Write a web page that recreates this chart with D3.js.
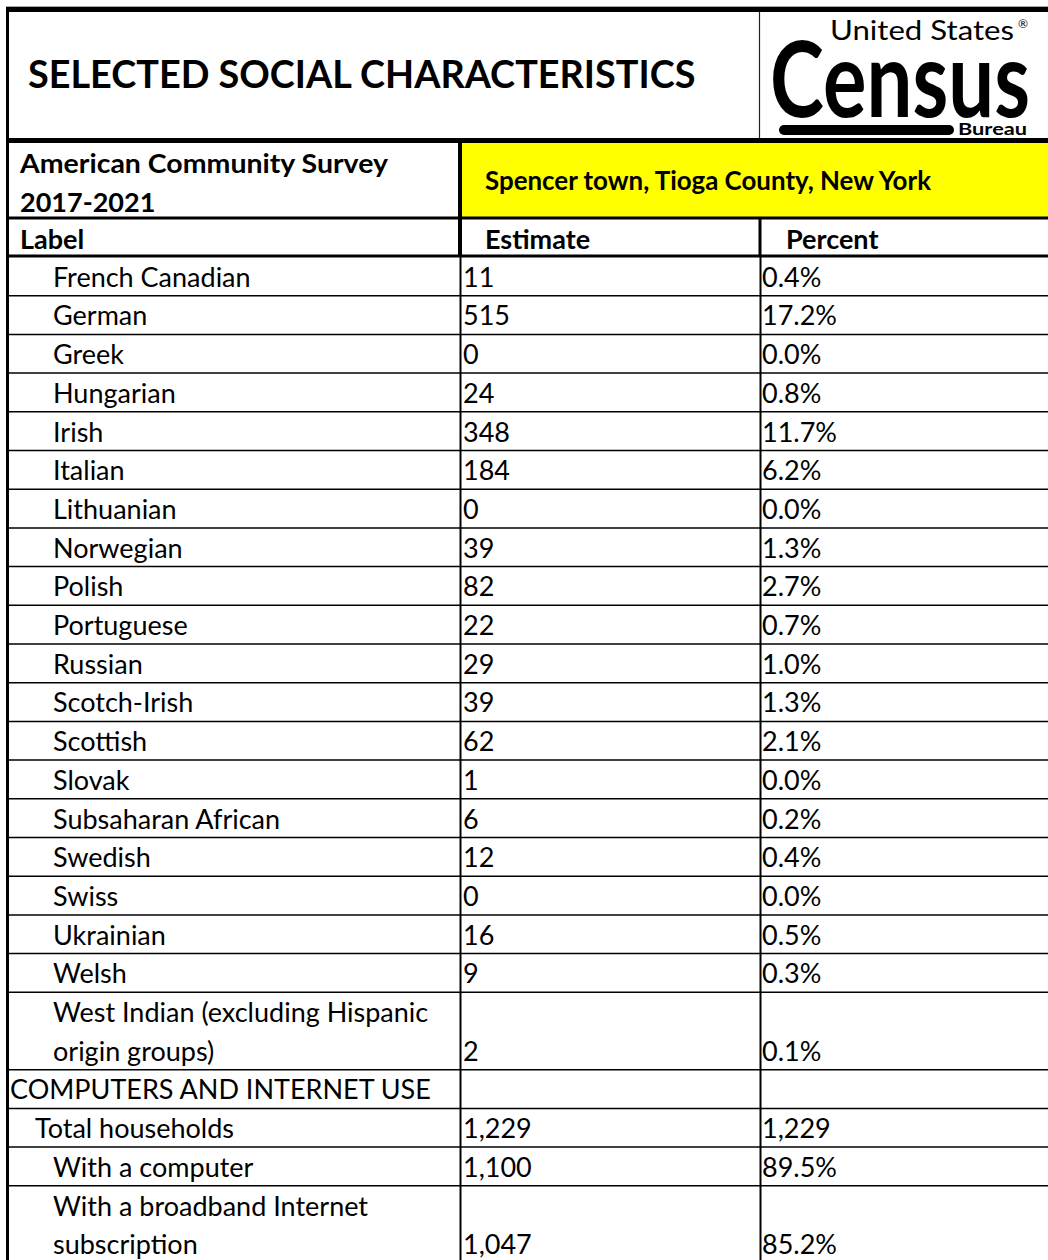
<!DOCTYPE html>
<html>
<head>
<meta charset="utf-8">
<script src="https://cdn.jsdelivr.net/npm/d3@7"></script>
<style>
  html, body { margin: 0; padding: 0; background: #fff; }
  svg { display: block; }
  text { font-family: Lato, "Open Sans", sans-serif; fill: #000; }
</style>
</head>
<body>
<svg id="chart" width="1048" height="1260"></svg>
<script>
// ---- data ----
const title = "SELECTED SOCIAL CHARACTERISTICS";
const surveyLines = ["American Community Survey", "2017-2021"];
const geography = "Spencer town, Tioga County, New York";
const columns = ["Label", "Estimate", "Percent"];

const labels = [
  "French Canadian", "German", "Greek", "Hungarian", "Irish", "Italian",
  "Lithuanian", "Norwegian", "Polish", "Portuguese", "Russian", "Scotch-Irish",
  "Scottish", "Slovak", "Subsaharan African", "Swedish", "Swiss", "Ukrainian",
  "Welsh", "West Indian (excluding Hispanic\norigin groups)",
  "COMPUTERS AND INTERNET USE", "Total households", "With a computer",
  "With a broadband Internet\nsubscription"
];
const estimates = [
  "11", "515", "0", "24", "348", "184", "0", "39", "82", "22", "29", "39",
  "62", "1", "6", "12", "0", "16", "9", "2", "", "1,229", "1,100", "1,047"
];
const percents = [
  "0.4%", "17.2%", "0.0%", "0.8%", "11.7%", "6.2%", "0.0%", "1.3%", "2.7%",
  "0.7%", "1.0%", "1.3%", "2.1%", "0.0%", "0.2%", "0.4%", "0.0%", "0.5%",
  "0.3%", "0.1%", "", "1,229", "89.5%", "85.2%"
];
const levels = [
  2, 2, 2, 2, 2, 2, 2, 2, 2, 2, 2, 2, 2, 2, 2, 2, 2, 2, 2, 2, 0, 1, 2, 2
];

// ---- layout ----
const W = 1048;
const FS = 27;
const svg = d3.select("#chart");

const rows = labels.map((l, i) => ({
  lines: l.split("\n"),
  est: estimates[i],
  pct: percents[i],
  level: levels[i]
}));
let acc = 0;
rows.forEach(r => { r.start = acc; acc += r.lines.length; r.end = acc; });
const totalUnits = acc;

const rowH = 38.7;
const dataTop = 257;
const y = d3.scaleLinear().domain([0, totalUnits]).range([dataTop, dataTop + totalUnits * rowH]);
const colX = d3.scaleOrdinal().domain(columns).range([8, 460, 760]);
const indent = d3.scaleOrdinal().domain([0, 1, 2]).range([10, 35, 53]);

// ---- header ----
svg.append("line").attr("x1", 6).attr("x2", W).attr("y1", 6.5).attr("y2", 6.5)
  .attr("stroke", "#a6a6a6").attr("stroke-width", 1);
svg.append("rect").attr("x", 6).attr("y", 7).attr("width", W - 6).attr("height", 5).attr("fill", "#000");

// title
svg.append("text").attr("x", 28).attr("y", 88)
  .attr("font-size", 37.8).attr("font-weight", 700).text(title);

// title / logo divider
svg.append("line").attr("x1", 759.5).attr("x2", 759.5).attr("y1", 12).attr("y2", 138)
  .attr("stroke", "#222").attr("stroke-width", 1.2);

// logo
const logo = svg.append("g");
logo.append("text").attr("x", 830).attr("y", 40)
  .attr("font-family", "'DejaVu Serif', 'Liberation Serif', serif")
  .attr("font-size", 27).attr("textLength", 184).attr("lengthAdjust", "spacingAndGlyphs")
  .text("United States");
logo.append("text").attr("x", 1018).attr("y", 28)
  .attr("font-family", "'DejaVu Sans', sans-serif").attr("font-size", 12).text("®");
logo.append("text").attr("x", 770).attr("y", 117)
  .attr("font-family", "'DejaVu Sans', sans-serif").attr("font-weight", 700)
  .attr("font-size", 105).attr("textLength", 260).attr("lengthAdjust", "spacingAndGlyphs")
  .text("Census");
logo.append("rect").attr("x", 779).attr("y", 125).attr("width", 175).attr("height", 10)
  .attr("rx", 5).attr("fill", "#000");
logo.append("text").attr("x", 958).attr("y", 135)
  .attr("font-family", "'DejaVu Sans', sans-serif").attr("font-weight", 700)
  .attr("font-size", 17).attr("textLength", 69).attr("lengthAdjust", "spacingAndGlyphs")
  .text("Bureau");

// thick line under title
svg.append("rect").attr("x", 6).attr("y", 138).attr("width", W - 6).attr("height", 5).attr("fill", "#000");

// yellow geography cell
svg.append("rect").attr("x", 462).attr("y", 143).attr("width", W - 462).attr("height", 74).attr("fill", "#ffff00");

surveyLines.forEach((t, i) => {
  const tx = svg.append("text").attr("x", 20).attr("y", 173 + i * 38.5)
    .attr("font-size", FS).attr("font-weight", 700).text(t);
  if (i === 0) tx.attr("textLength", 368).attr("lengthAdjust", "spacingAndGlyphs");
});
svg.append("text").attr("x", 485).attr("y", 190)
  .attr("font-size", FS).attr("font-weight", 700)
  .attr("textLength", 446).attr("lengthAdjust", "spacingAndGlyphs")
  .text(geography);

// line under survey row
svg.append("rect").attr("x", 6).attr("y", 216.5).attr("width", W - 6).attr("height", 3).attr("fill", "#000");

// column headers
const headX = { "Label": 20, "Estimate": 485, "Percent": 786 };
columns.forEach(c => {
  svg.append("text").attr("x", headX[c]).attr("y", 249)
    .attr("font-size", FS).attr("font-weight", 700).text(c);
});

// line under header row
svg.append("rect").attr("x", 6).attr("y", 254.5).attr("width", W - 6).attr("height", 3).attr("fill", "#000");

// header vertical separators
svg.append("rect").attr("x", 458).attr("y", 143).attr("width", 4).attr("height", 114).attr("fill", "#000");
svg.append("rect").attr("x", 758.5).attr("y", 219).attr("width", 3).attr("height", 38).attr("fill", "#000");

// ---- body ----
const body = svg.append("g");

body.selectAll("line.row").data(rows.slice(1))
  .join("line").attr("class", "row")
  .attr("x1", 6).attr("x2", W)
  .attr("y1", d => y(d.start)).attr("y2", d => y(d.start))
  .attr("stroke", "#000").attr("stroke-width", 1.5);

["Estimate", "Percent"].forEach(c => {
  body.append("line")
    .attr("x1", colX(c) + 0.5).attr("x2", colX(c) + 0.5)
    .attr("y1", dataTop).attr("y2", 1260)
    .attr("stroke", "#000").attr("stroke-width", 2);
});

const g = body.selectAll("g.r").data(rows).join("g").attr("class", "r");
g.each(function (d) {
  const sel = d3.select(this);
  const n = d.lines.length;
  d.lines.forEach((t, i) => {
    sel.append("text")
      .attr("x", indent(d.level))
      .attr("y", y(d.end) - 9 - (n - 1 - i) * rowH)
      .attr("font-size", FS)
      .text(t);
  });
  sel.append("text").attr("x", colX("Estimate") + 3).attr("y", y(d.end) - 9)
    .attr("font-size", FS).text(d.est);
  sel.append("text").attr("x", colX("Percent") + 2).attr("y", y(d.end) - 9)
    .attr("font-size", FS).text(d.pct);
});

// left border
svg.append("rect").attr("x", 6).attr("y", 7).attr("width", 3).attr("height", 1260).attr("fill", "#000");
</script>
</body>
</html>
